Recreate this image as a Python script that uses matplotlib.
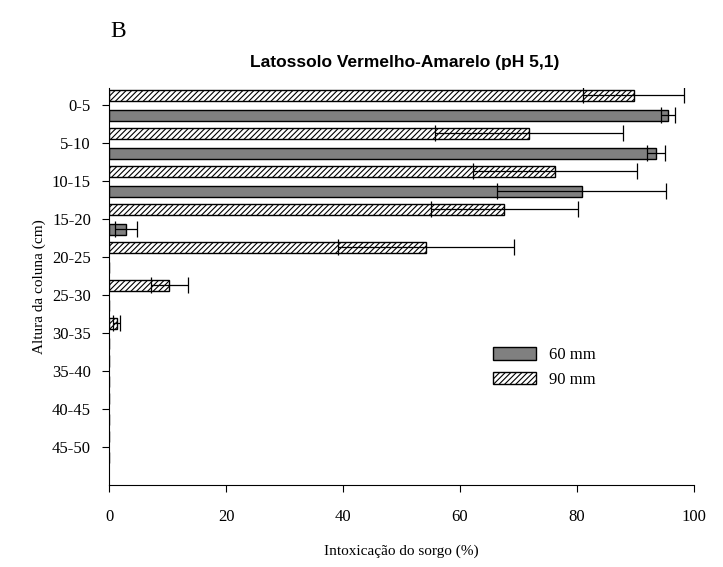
import numpy as np
from matplotlib import pyplot as plt

plt.rcParams['font.family'] = ['Liberation Serif']
plt.rcParams['hatch.linewidth'] = 0.8

categories = ["0-5", "5-10", "10-15", "15-20", "20-25", "25-30", "30-35", "35-40", "40-45", "45-50"]
mm60 = [95.5, 93.5, 80.8, 2.9, 0, 0, 0, 0, 0, 0]
mm60_err = [1.2, 1.6, 14.5, 1.8, 0, 0, 0, 0, 0, 0]
mm90 = [89.7, 71.8, 76.3, 67.6, 54.2, 10.3, 1.3, 0, 0, 0]
mm90_err = [8.6, 16.0, 14.0, 12.6, 15.0, 3.2, 0.6, 0, 0, 0]

pos = np.arange(len(categories))
h = 0.29
off = 0.265

fig = plt.figure(figsize=(7.23, 5.67), dpi=100)
ax = fig.add_axes([0.1508, 0.1446, 0.809, 0.700])

ax.barh(pos - off, mm90, height=h, color="white", edgecolor="black", hatch="//////",
        linewidth=1, label="90 mm")
ax.barh(pos + off, mm60, height=h, color="#808080", edgecolor="black", linewidth=1,
        label="60 mm")

m = np.array(mm90) > 0
ax.errorbar(np.array(mm90)[m], (pos - off)[m], xerr=np.array(mm90_err)[m], fmt="none",
            ecolor="black", elinewidth=0.9, capsize=5.5, capthick=0.9)
m = np.array(mm60) > 0
ax.errorbar(np.array(mm60)[m], (pos + off)[m], xerr=np.array(mm60_err)[m], fmt="none",
            ecolor="black", elinewidth=0.9, capsize=5.5, capthick=0.9)

ax.set_xlim(0, 100)
ax.set_ylim(10.0, -0.45)
ax.set_yticks(pos)
ax.set_yticklabels(categories, fontsize=12)
ax.set_xticks(np.arange(0, 101, 20))
ax.tick_params(axis="x", labelsize=12, direction="out", length=5, pad=12)
ax.tick_params(axis="y", direction="out", length=5, pad=8)
for s in ["top", "right"]:
    ax.spines[s].set_visible(False)

ax.set_xlabel("Intoxicação do sorgo (%)", fontsize=11, labelpad=14)
ax.set_ylabel("Altura da coluna (cm)", fontsize=11, labelpad=4)

fig.text(0.56, 0.89, "Latossolo Vermelho-Amarelo (pH 5,1)", ha="center", va="center",
         fontsize=12.5, fontweight="bold", family="Liberation Sans")
fig.text(0.152, 0.945, "B", ha="left", va="center", fontsize=17)

hnd, lab = ax.get_legend_handles_labels()
ax.legend(hnd[::-1], lab[::-1], loc="upper left", bbox_to_anchor=(0.63, 0.385),
          frameon=False, fontsize=12, handlelength=2.6, handleheight=0.8)

plt.savefig("out.png", dpi=100)
